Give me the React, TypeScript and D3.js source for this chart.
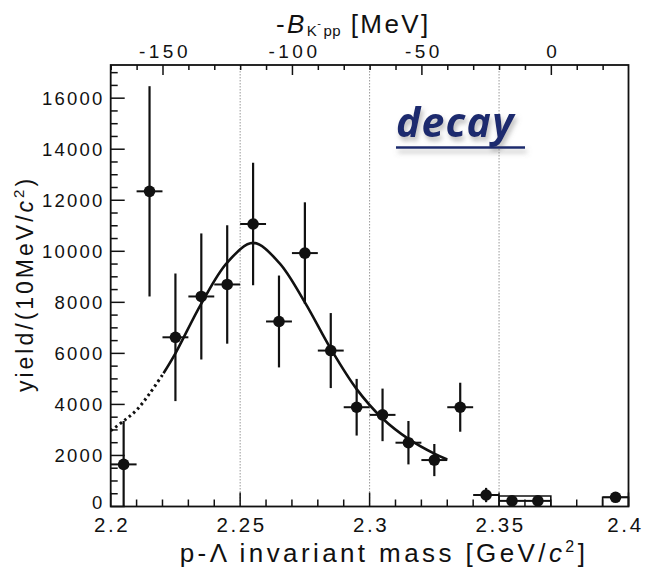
import React from "react";
import * as d3 from "d3";

// ---- data ----
const massBins = [2.205, 2.215, 2.225, 2.235, 2.245, 2.255, 2.265, 2.275, 2.285, 2.295, 2.305, 2.315, 2.325, 2.335, 2.345, 2.355, 2.365, 2.395];
const yields = [1650, 12350, 6630, 8230, 8700, 11070, 7250, 9930, 6110, 3890, 3590, 2500, 1820, 3890, 450, 220, 220, 360];
const yErrors = [1700, 4120, 2500, 2470, 2320, 2400, 1800, 1990, 1470, 1110, 1030, 850, 630, 960, 280, 0, 0, 120];
const binHalf = 0.005;

const boxLo = [2.35, 2.39];
const boxHi = [2.37, 2.4];
const boxTop = [410, 360];

const fitDottedMass = [2.2, 2.205, 2.21, 2.215, 2.2204];
const fitDottedYield = [2970, 3350, 3780, 4420, 5220];
const fitSolidMass = [2.2204, 2.225, 2.235, 2.245, 2.255, 2.265, 2.275, 2.285, 2.295, 2.305, 2.315, 2.325, 2.33];
const fitSolidYield = [5220, 6000, 7950, 9560, 10330, 9560, 8000, 6180, 4600, 3450, 2650, 2070, 1840];

const xTicksMajor = [2.2, 2.25, 2.3, 2.35, 2.4];
const xTickLabels = ["2.2", "2.25", "2.3", "2.35", "2.4"];
const gridX = [2.25, 2.3, 2.35];
const yTicksMajor = [0, 2000, 4000, 6000, 8000, 10000, 12000, 14000, 16000];
const topTicksMajor = [-150, -100, -50, 0];
const thresholdGeV = 2.3702; // M(K-) + 2M(p)

const W = 647;
const H = 573;
const L = 110.7, R = 628.5, T = 65, B = 506.5;
const FONT = "'Liberation Sans', Arial, Helvetica, sans-serif";

export default function App() {
  const x = d3.scaleLinear().domain([2.2, 2.4]).range([L, R]);
  const y = d3.scaleLinear().domain([0, 17300]).range([B, T]);
  const xb = d3.scaleLinear().domain([(2.2 - thresholdGeV) * 1000, (2.4 - thresholdGeV) * 1000]).range([L, R]);

  const xMinor = d3.range(2.2, 2.4001, 0.01).map((v) => +v.toFixed(3));
  const yMinor = d3.range(0, 17300, 500);
  const topMinor = d3.range(-170, 30, 10);

  const line = d3
    .line<[number, number]>()
    .x((d) => x(d[0]))
    .y((d) => y(d[1]))
    .curve(d3.curveCatmullRom.alpha(0.5));

  const dotted = line(fitDottedMass.map((m, i) => [m, fitDottedYield[i]]) as [number, number][]) || "";
  const solid = line(fitSolidMass.map((m, i) => [m, fitSolidYield[i]]) as [number, number][]) || "";

  const ink = "#111";

  return (
    <svg width={W} height={H} style={{ position: "absolute", left: 0, top: 0, background: "#fff" }} fontFamily={FONT}>
      <defs>
        <filter id="shadow" x="-20%" y="-30%" width="140%" height="180%">
          <feDropShadow dx="2" dy="4" stdDeviation="2.5" floodColor="#777" floodOpacity="0.5" />
        </filter>
        <clipPath id="plot">
          <rect x={L} y={T} width={R - L} height={B - T} />
        </clipPath>
      </defs>

      {/* grid lines */}
      {gridX.map((g) => (
        <line key={"g" + g} x1={x(g)} x2={x(g)} y1={T} y2={B} stroke="#999" strokeWidth={1} strokeDasharray="1.5,1.5" />
      ))}

      {/* decay label */}
      <g filter="url(#shadow)">
        <text x={396} y={137} fontFamily="'Open Sans', 'Noto Sans', sans-serif" fontWeight={700} fontStyle="italic" fontSize={41} letterSpacing={1.2} fill="#1d2b6e">
          decay
        </text>
        <line x1={396} x2={525} y1={147.5} y2={147.5} stroke="#1d2b6e" strokeWidth={2.6} />
      </g>

      {/* fit curve */}
      <g clipPath="url(#plot)">
        <path d={dotted} fill="none" stroke={ink} strokeWidth={3} strokeDasharray="2.5,3.2" />
        <path d={solid} fill="none" stroke={ink} strokeWidth={2.6} />
      </g>

      {/* box outlines */}
      {boxLo.map((lo, i) => (
        <path
          key={"box" + i}
          d={`M${x(lo)},${B} V${y(boxTop[i])} H${x(boxHi[i])} V${B}`}
          fill="none"
          stroke={ink}
          strokeWidth={1.6}
        />
      ))}

      {/* data points */}
      {massBins.map((m, i) => {
        const v = yields[i];
        const e = yErrors[i];
        return (
          <g key={"p" + i}>
            <line x1={x(m - binHalf)} x2={x(m + binHalf)} y1={y(v)} y2={y(v)} stroke={ink} strokeWidth={2} />
            {e > 0 && (
              <line x1={x(m)} x2={x(m)} y1={y(Math.max(0, v - e))} y2={y(v + e)} stroke={ink} strokeWidth={2.2} />
            )}
            <circle cx={x(m)} cy={y(v)} r={5.8} fill={ink} />
          </g>
        );
      })}

      {/* frame */}
      <rect x={L} y={T} width={R - L} height={B - T} fill="none" stroke={ink} strokeWidth={1.8} />

      {/* bottom ticks */}
      {xMinor.map((t) => {
        const major = xTicksMajor.some((mj) => Math.abs(mj - t) < 1e-6);
        return <line key={"xt" + t} x1={x(t)} x2={x(t)} y1={B} y2={B - (major ? 14 : 7)} stroke={ink} strokeWidth={1.5} />;
      })}
      {xTicksMajor.map((t, i) => (
        <text
          key={"xl" + t}
          x={x(t) + (i === xTicksMajor.length - 1 ? -3 : 1.5)}
          y={532}
          textAnchor="middle"
          fontSize={20.5}
          letterSpacing={2.6}
          fill={ink}
        >
          {xTickLabels[i]}
        </text>
      ))}

      {/* left ticks */}
      {yMinor.map((t) => {
        const major = t % 2000 === 0;
        return <line key={"yt" + t} x1={L} x2={L + (major ? 14 : 7)} y1={y(t)} y2={y(t)} stroke={ink} strokeWidth={1.5} />;
      })}
      {yTicksMajor.map((t) => (
        <text key={"yl" + t} x={104.5} y={y(t) + (t === 0 ? 2 : 7)} textAnchor="end" fontSize={18.5} letterSpacing={2.2} fill={ink}>
          {String(t)}
        </text>
      ))}

      {/* top ticks */}
      {topMinor.map((t) => {
        const major = t % 50 === 0;
        return <line key={"tt" + t} x1={xb(t)} x2={xb(t)} y1={T} y2={T + (major ? 10 : 5)} stroke={ink} strokeWidth={1.5} />;
      })}
      {topTicksMajor.map((t) => (
        <text key={"tl" + t} x={xb(t) + 2} y={58} textAnchor="middle" fontSize={19} letterSpacing={3.5} fill={ink}>
          {String(t)}
        </text>
      ))}

      {/* top title */}
      <text x={276} y={33} fontSize={26} letterSpacing={2.4} fill={ink}>
        -<tspan fontStyle="italic">B</tspan>
        <tspan fontSize={15} dy={3} letterSpacing={0.5}>K</tspan>
        <tspan fontSize={11} dy={-9}>-</tspan>
        <tspan fontSize={15} dy={9} letterSpacing={0.5}>pp</tspan>
        <tspan dy={-3}> [MeV]</tspan>
      </text>

      {/* y title */}
      <text transform={`translate(33,284) rotate(-90)`} textAnchor="middle" fontSize={23} letterSpacing={3} fill={ink}>
        yield/(10MeV/<tspan fontStyle="italic">c</tspan>
        <tspan fontSize={15} dy={-9}>2</tspan>
        <tspan dy={9}>)</tspan>
      </text>

      {/* x title */}
      <text x={384} y={562} textAnchor="middle" fontSize={26} letterSpacing={3.4} fill={ink}>
        p-Λ invariant mass [GeV/<tspan fontStyle="italic">c</tspan>
        <tspan fontSize={16} dy={-10}>2</tspan>
        <tspan dy={10}>]</tspan>
      </text>
    </svg>
  );
}
